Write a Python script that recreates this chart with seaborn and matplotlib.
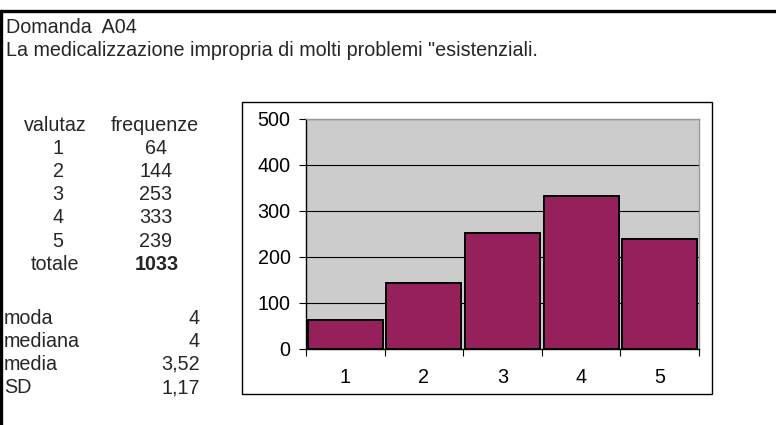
import matplotlib
matplotlib.use("Agg")
import matplotlib.pyplot as plt
import seaborn as sns
import pandas as pd
from matplotlib.patches import Rectangle
from matplotlib.lines import Line2D

# ---- data ----
title_line1 = "Domanda  A04"
title_line2 = 'La medicalizzazione impropria di molti problemi "esistenziali.'
valutaz = ["1", "2", "3", "4", "5"]
frequenze = [64, 144, 253, 333, 239]
totale = 1033
stat_names = ["moda", "mediana", "media", "SD"]
stat_values = ["4", "4", "3,52", "1,17"]
y_ticks = [0, 100, 200, 300, 400, 500]

sns.set_theme(style="white")
plt.rcParams["font.family"] = ["Liberation Sans", "DejaVu Sans"]

W, H = 776, 425
fig = plt.figure(figsize=(W / 100, H / 100), dpi=100)
fs = 14.2

def fx(x):
    return x / W

def fy(y):
    return 1 - y / H

# outer page borders
fig.add_artist(Line2D([0, 1], [fy(11), fy(11)], color="black", lw=2.4, transform=fig.transFigure))
fig.add_artist(Line2D([fx(1.2), fx(1.2)], [fy(11), 0], color="black", lw=2.4, transform=fig.transFigure))

# header text (baseline positions)
fig.text(fx(6), fy(33), title_line1, fontsize=fs, va="baseline", ha="left")
fig.text(fx(6), fy(56), title_line2, fontsize=fs, va="baseline", ha="left")

# frequency table
fig.text(fx(55), fy(131), "valutaz", fontsize=fs, ha="center", va="baseline")
fig.text(fx(155), fy(131), "frequenze", fontsize=fs, ha="center", va="baseline")
row_y = [154, 177, 200, 223, 247]
for v, f, yy in zip(valutaz, frequenze, row_y):
    fig.text(fx(58), fy(yy), v, fontsize=fs, ha="center", va="baseline")
    fig.text(fx(156), fy(yy), str(f), fontsize=fs, ha="center", va="baseline")
fig.text(fx(55), fy(270), "totale", fontsize=fs, ha="center", va="baseline")
fig.text(fx(157), fy(270), str(totale), fontsize=fs, ha="center", va="baseline", fontweight="bold")

stat_y = [324, 347, 370, 393]
for n, v, yy in zip(stat_names, stat_values, stat_y):
    fig.text(fx(4), fy(yy), n, fontsize=fs, ha="left", va="baseline")
    fig.text(fx(200), fy(yy), v, fontsize=fs, ha="right", va="baseline")

# chart frame
fig.add_artist(Rectangle((fx(242), fy(394)), fx(712) - fx(242), fy(102) - fy(394),
                         transform=fig.transFigure, fill=False, edgecolor="black", lw=1.0))

# plot area
ax = fig.add_axes([fx(306), fy(349), fx(699) - fx(306), fy(119) - fy(349)])
ax.set_facecolor("#cccccc")
df = pd.DataFrame({"valutaz": valutaz, "frequenze": frequenze})
sns.barplot(data=df, x="valutaz", y="frequenze", color="#96205c", width=0.955,
            edgecolor="black", linewidth=1.4, saturation=1, ax=ax, zorder=3)
for p in ax.patches:
    p.set_facecolor("#96205c")
ax.set_xlim(-0.5, 4.5)
ax.set_ylim(0, 500)
ax.set_yticks(y_ticks)
ax.set_yticklabels([str(t) for t in y_ticks], fontsize=fs)
ax.yaxis.grid(True, color="black", lw=0.8, zorder=0)
ax.set_axisbelow(True)
ax.set_xticks(range(5))
ax.set_xticklabels(valutaz, fontsize=fs)
ax.set_xticks([i - 0.5 for i in range(6)], minor=True)
ax.tick_params(axis="x", which="major", length=0, pad=14, colors="black")
ax.tick_params(axis="x", which="minor", length=5, width=0.8, color="black", direction="out", bottom=True)
ax.tick_params(axis="y", length=5, width=0.8, color="black", direction="out", left=True, pad=6, colors="black")
ax.set_xlabel("")
ax.set_ylabel("")
for side in ["left", "bottom"]:
    ax.spines[side].set_color("black")
    ax.spines[side].set_linewidth(1.0)
for side in ["top", "right"]:
    ax.spines[side].set_color("#999999")
    ax.spines[side].set_linewidth(1.0)
    ax.spines[side].set_visible(True)

fig.savefig("out.png", dpi=100, facecolor="white")
